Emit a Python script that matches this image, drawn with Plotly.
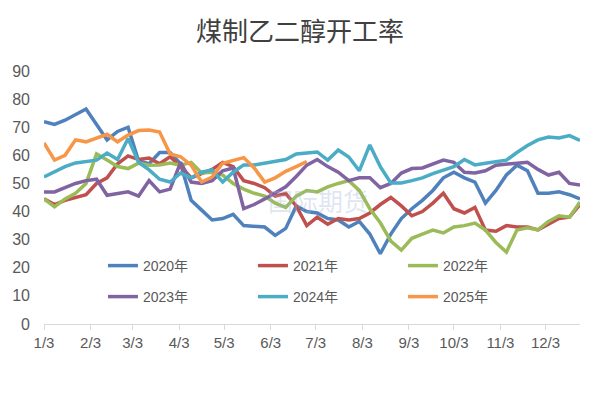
import datetime as dt
import plotly.graph_objects as go

# weekly observation dates (reference year used only for positioning on a Jan..Dec axis)
start = dt.date(2023, 1, 3)
weeks = [start + dt.timedelta(days=7 * i) for i in range(52)]

tick_dates = [dt.date(2023, m, 3) for m in range(1, 13)]
tick_labels = ["1/3", "2/3", "3/3", "4/3", "5/3", "6/3", "7/3", "8/3", "9/3", "10/3", "11/3", "12/3"]

y2020 = [72, 71, 72.5, 74.5, 76.5, 71, 65.5, 68.5, 70, 58, 57, 61, 61, 57, 44, 40.5, 37, 37.5, 39, 35,
         34.8, 34.5, 31.5, 34, 42, 40, 39.5, 37.5, 37, 34.5, 36.5, 32, 25, 32, 37.5, 41, 44, 47.5, 52, 54,
         52, 50.5, 43, 47.5, 53, 56.5, 54.5, 46.5, 46.5, 47, 46, 44.5]
y2021 = [44.5, 42.5, 44, 45, 46, 50, 52, 57, 59.8, 58.5, 59, 57, 59.5, 56, 52, 53.5, 55, 57.5, 56, 51,
         50, 48.5, 45.5, 46.4, 42, 35, 38, 35.5, 37.5, 37, 37.5, 39.5, 42.5, 45, 42, 38.5, 40, 43, 46.5, 41,
         39.5, 41.5, 33.4, 33, 35, 34.5, 34.5, 33.5, 35.5, 37.5, 38, 42.5]
y2022 = [44.5, 41.7, 44.5, 46.5, 50, 60.5, 58.3, 56, 55.3, 57.2, 56.5, 56.6, 57.3, 56.5, 57.5, 53.7, 54, 53, 50, 48,
         46.5, 45.5, 43, 41.5, 45.5, 47.5, 47, 48.8, 50, 51, 47.5, 41, 36, 29.5, 26.3, 30.5, 32, 33.4, 32.4, 34.5,
         35, 35.9, 33.4, 29, 25.6, 33.4, 34.2, 33.5, 36.5, 38.5, 38, 43.4]
y2023 = [47, 47, 48.5, 50, 51, 51.5, 45.8, 46.5, 47, 45.5, 51, 47, 48, 57.5, 50.5, 50, 51, 54.5, 55.5, 41,
         42.5, 44.5, 46.5, 48.8, 52.5, 56.5, 58.5, 56, 54, 51, 52, 52, 48.5, 50, 53.7, 55.3, 55.5, 57, 58.3, 57.5,
         54, 53.7, 54.5, 56.5, 57, 57.2, 57.5, 55, 53, 54, 50, 49.4]
y2024 = [52.3, 54, 56, 57.3, 57.7, 58.3, 60.8, 58.5, 66, 57.5, 54.8, 51.5, 50.5, 53.7, 52, 54, 54.8, 50.5, 54, 56.6,
         56.6, 57.2, 57.6, 58.5, 60.5, 61, 61.2, 58.3, 61.9, 59.4, 54.5, 63.7, 56, 50.2, 50.2, 51, 52, 53.5, 54.8, 56,
         58.5, 56.6, 57.2, 57.6, 58.3, 61, 63.5, 65.5, 66.5, 66.2, 67, 65.3]
y2025 = [64.4, 58.3, 60, 65.5, 64.8, 66, 67.5, 64.8, 67.2, 68.8, 69, 68.3, 60.5, 59.5, 56.5, 50.5, 52.3, 57.2, 58.3, 59.2,
         55.5, 50.5, 52, 54.3, 56, 57.8]

series_names = ["2020年", "2021年", "2022年", "2023年", "2024年", "2025年"]
series_values = [y2020, y2021, y2022, y2023, y2024, y2025]
colors = ["#4F81BD", "#C0504D", "#9BBB59", "#8064A2", "#4BACC6", "#F79646"]
legend_ids = ["legend", "legend", "legend", "legend2", "legend2", "legend2"]

fig = go.Figure()
for name, vals, col, lg in zip(series_names, series_values, colors, legend_ids):
    fig.add_trace(go.Scatter(
        x=weeks[:len(vals)], y=vals, name=name, mode="lines",
        line=dict(color=col, width=3.5),
        legend=lg,
    ))

font_family = "Liberation Sans, Noto Sans CJK SC, sans-serif"
legend_common = dict(
    orientation="h", xanchor="left", yanchor="middle",
    font=dict(family=font_family, size=14, color="#595959"),
    bgcolor="rgba(0,0,0,0)", entrywidth=105, entrywidthmode="pixels",
    itemwidth=30,
)

fig.update_layout(
    width=600, height=394,
    margin=dict(l=44, r=20, t=71, b=70),
    paper_bgcolor="white", plot_bgcolor="white",
    title=dict(text="煤制乙二醇开工率", x=0.5, xanchor="center", y=0.92, yanchor="middle",
               font=dict(family="Noto Sans CJK SC", size=26, color="#404040")),
    showlegend=True,
    legend=dict(x=0.11, y=(324 - 266) / 253, **legend_common),
    legend2=dict(x=0.11, y=(324 - 297) / 253, **legend_common),
    annotations=[dict(text="国际期货", xref="paper", yref="paper", x=(318 - 44) / 536, y=(324 - 200) / 253,
                      showarrow=False, font=dict(family="Noto Sans CJK SC", size=25,
                                                 color="rgba(160,182,222,0.35)"))],
    xaxis=dict(
        type="date", range=[weeks[0], weeks[-1]],
        tickmode="array", tickvals=tick_dates, ticktext=tick_labels,
        showgrid=False, zeroline=False,
        showline=True, linecolor="#D9D9D9", linewidth=1,
        ticks="outside", ticklen=5, tickcolor="#D9D9D9",
        tickfont=dict(family=font_family, size=15, color="#595959"),
    ),
    yaxis=dict(
        range=[0, 90], tickmode="linear", tick0=0, dtick=10,
        showgrid=False, zeroline=False, showline=False,
        tickfont=dict(family=font_family, size=16, color="#595959"),
        ticks="", ticklabelstandoff=13,
    ),
)

fig.write_html("out.html", config={"displayModeBar": False},
               post_script="document.body.style.margin='0';")
